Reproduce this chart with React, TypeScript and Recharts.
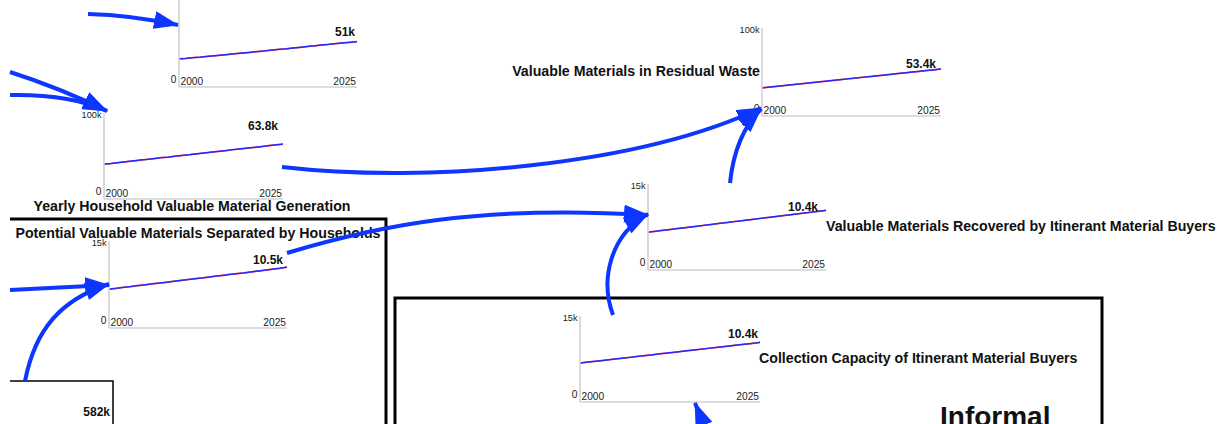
import React from "react";
import { LineChart, Line, XAxis, YAxis, LabelList } from "recharts";

// ---- data (values in thousands) ----
const years = [2000,2001,2002,2003,2004,2005,2006,2007,2008,2009,2010,2011,2012,2013,2014,2015,2016,2017,2018,2019,2020,2021,2022,2023,2024,2025];
const xTicks = [2000, 2025];

const householdSeparated = [40.5,41.3,42.3,43.3,44.2,45.2,46.0,47.0,48.0,48.8,49.8,50.8,51.6,52.6,53.5,54.4,55.4,56.3,57.3,58.2,59.1,60.1,61.0,62.0,62.9,63.8];
const topChartValues = [31.5,32.1,32.9,33.5,34.4,35.1,35.9,36.7,37.4,38.2,39.0,39.8,40.5,41.4,42.2,42.9,43.8,44.6,45.5,46.3,47.2,47.9,48.8,49.5,50.2,51.0];
const potentialSeparated = [6.70,6.84,7.00,7.13,7.30,7.44,7.60,7.74,7.88,8.04,8.19,8.33,8.49,8.62,8.78,8.93,9.08,9.24,9.38,9.52,9.69,9.83,9.98,10.14,10.30,10.50];
const residualWaste = [32.0,32.8,33.7,34.5,35.4,36.3,37.1,38.0,38.8,39.7,40.5,41.4,42.3,43.1,44.0,44.8,45.7,46.5,47.4,48.3,49.1,50.0,50.8,51.7,52.5,53.4];
const recoveredIMB = [6.60,6.75,6.90,7.05,7.21,7.36,7.50,7.66,7.81,7.96,8.12,8.27,8.42,8.57,8.72,8.88,9.03,9.18,9.33,9.49,9.64,9.79,9.94,10.10,10.25,10.40];
const capacityIMB = [6.80,6.94,7.09,7.23,7.37,7.52,7.66,7.80,7.95,8.09,8.23,8.38,8.52,8.66,8.81,8.95,9.09,9.24,9.38,9.52,9.67,9.81,9.95,10.10,10.24,10.40];

const maxValues = [100, 100, 15, 100, 15, 15];
const maxLabels = ["100k", "100k", "15k", "100k", "15k", "15k"];
const endLabels = ["51k", "63.8k", "10.5k", "53.4k", "10.4k", "10.4k"];
const series = [topChartValues, householdSeparated, potentialSeparated, residualWaste, recoveredIMB, capacityIMB];
const stockLabel = "582k";

const titles = [
  "Yearly Household Valuable Material Generation",
  "Potential Valuable Materials Separated by Households",
  "Valuable Materials in Residual Waste",
  "Valuable Materials Recovered by Itinerant Material Buyers",
  "Collection Capacity of Itinerant Material Buyers",
];

// ---- layout (plot boxes in page pixels) ----
const layout = [
  { x: 179, y: -2, w: 178, h: 89, dx: -2, dy: -6, ty: -3 },
  { x: 104, y: 113, w: 179, h: 86, dx: -5, dy: -14, ty: 5 },
  { x: 109, y: 241, w: 178, h: 87, dx: -4, dy: -3, ty: 5 },
  { x: 762, y: 28, w: 179, h: 88, dx: -5, dy: -1, ty: 5 },
  { x: 648, y: 184, w: 178, h: 86, dx: -8, dy: 1, ty: 5 },
  { x: 580, y: 316, w: 180, h: 86, dx: -2, dy: -4, ty: 5 },
];

const FONT = "'Liberation Sans', Arial, Helvetica, sans-serif";
const BLUE = "#0d36ff";

function Mini({ idx }: { idx: number }) {
  const L = 36, T = 8, R = 6, B = 4;
  const { x, y, w, h, dx, dy, ty } = layout[idx];
  const vals = series[idx];
  const data = years.map((yr, i) => ({ year: yr, v: vals[i] }));
  const max = maxValues[idx];
  const bottom = T + h;
  const last = data.length - 1;
  const xTick = (p: any) => {
    const v = p.payload.value;
    return (
      <text x={v === 2000 ? p.x + 1.5 : p.x - 1} y={bottom - 2.5} textAnchor={v === 2000 ? "start" : "end"}
        fontSize={10.2} fontFamily={FONT} fill="#222">{v}</text>
    );
  };
  const yTick = (p: any) => {
    const v = p.payload.value;
    const isTop = v === max;
    return (
      <text x={L - 2.5} y={isTop ? T + ty : bottom - 4.5} textAnchor="end"
        fontSize={isTop ? 9.2 : 10.2} fontFamily={FONT} fill="#222">{isTop ? maxLabels[idx] : "0"}</text>
    );
  };
  return (
    <div style={{ position: "absolute", left: x - L, top: y - T }}>
      <LineChart width={L + w + R} height={T + h + B} data={data} margin={{ top: T, right: R, bottom: 0, left: 0 }}>
        <XAxis dataKey="year" type="number" domain={[2000, 2025]} ticks={xTicks} height={B}
          axisLine={{ stroke: "#d2d2d2", strokeWidth: 1.6 }} tickLine={false} tick={xTick} interval={0} />
        <YAxis type="number" domain={[0, max]} ticks={[0, max]} width={L}
          axisLine={{ stroke: "#d2d2d2", strokeWidth: 1.6 }} tickLine={false} tick={yTick} interval={0} />
        <Line dataKey="v" stroke="#c8407a" strokeWidth={1.7} dot={false} isAnimationActive={false} />
        <Line dataKey="v" stroke="#2626ff" strokeWidth={1.3} dot={false} isAnimationActive={false}>
          <LabelList dataKey="v" content={(p: any) =>
            p.index === last ? (
              <text x={p.x + dx} y={p.y + dy} textAnchor="end" fontSize={12} fontWeight="bold" fontFamily={FONT} fill="#111">
                {endLabels[idx]}
              </text>
            ) : null} />
        </Line>
      </LineChart>
    </div>
  );
}

export default function App() {
  const tf = { fontSize: 14.2, fontWeight: "bold" as const, fontFamily: FONT, fill: "#111" };
  return (
    <div style={{ position: "absolute", left: 0, top: 0, width: 1226, height: 424, overflow: "hidden", background: "#fff", fontFamily: FONT }}>
      {layout.map((_, i) => <Mini key={i} idx={i} />)}
      <svg width={1226} height={424} style={{ position: "absolute", left: 0, top: 0, pointerEvents: "none" }}>
        <defs>
          <marker id="ah" markerUnits="userSpaceOnUse" markerWidth={25} markerHeight={18} viewBox="0 0 25 18" refX={24} refY={9} orient="auto">
            <path d="M0,0 L25,9 L0,18 z" fill={BLUE} />
          </marker>
        </defs>
        {/* boxes */}
        <path d="M10 219 L386 219 L386 430" fill="none" stroke="#000" strokeWidth={3} />
        <path d="M395 430 L395 298 L1102 298 L1102 430" fill="none" stroke="#000" strokeWidth={3} />
        <path d="M10 381 L113 381 L113 430" fill="none" stroke="#000" strokeWidth={1.5} />
        <text x={110} y={416} textAnchor="end" fontSize={12} fontWeight="bold" fontFamily={FONT} fill="#111">{stockLabel}</text>
        {/* titles */}
        <text x={192} y={211} textAnchor="middle" {...tf}>{titles[0]}</text>
        <text x={198} y={238} textAnchor="middle" {...tf}>{titles[1]}</text>
        <text x={760} y={76} textAnchor="end" {...tf}>{titles[2]}</text>
        <text x={826} y={231} textAnchor="start" {...tf}>{titles[3]}</text>
        <text x={759} y={363} textAnchor="start" {...tf}>{titles[4]}</text>
        <text x={940} y={426} textAnchor="start" fontSize={28} fontWeight="bold" fontFamily={FONT} fill="#111">Informal</text>
        {/* arrows */}
        <g fill="none" stroke={BLUE} strokeWidth={4} markerEnd="url(#ah)">
          <path d="M88 14 Q130 15 178 25" />
          <path d="M10 72 Q60 88 107 111" />
          <path d="M10 95 Q70 94 107 111" />
          <path d="M282 167 C430 184 640 165 761 108" />
          <path d="M730 183 Q735 135 761 109" />
          <path d="M287 253 C380 225 480 205 648 215" />
          <path d="M613 315 C600 280 610 235 648 214" />
          <path d="M10 290 L109 285" />
          <path d="M25 381 C35 330 60 300 109 284" />
          <path d="M712 445 L695 403" />
        </g>
      </svg>
    </div>
  );
}
